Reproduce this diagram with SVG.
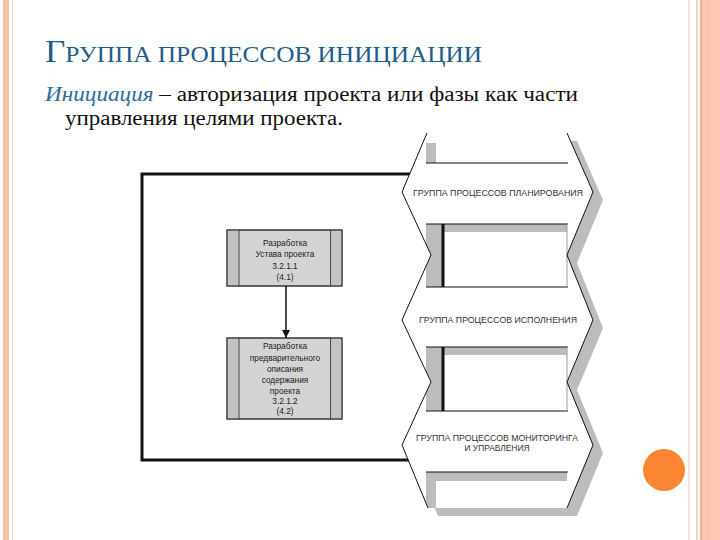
<svg xmlns="http://www.w3.org/2000/svg" width="720" height="540" viewBox="0 0 720 540">
<style>
.title{font-family:"Liberation Serif","DejaVu Serif",serif;fill:#1d5d88}
.body{font-family:"Liberation Serif","DejaVu Serif",serif;font-size:20px;fill:#111}
.node rect.main{fill:#d4d4d4;stroke:#333;stroke-width:1}
.node rect.side{fill:#c2c2c2}
.node line{stroke:#444;stroke-width:1}
.node text{font-family:"Liberation Sans",Arial,sans-serif;font-size:8.3px;fill:#222;text-anchor:middle}
.band{font-family:"Liberation Sans",Arial,sans-serif;font-size:8.4px;fill:#333;text-anchor:middle}
.zig{fill:none;stroke:#111;stroke-width:1}
.gapline{stroke:#111;stroke-width:1.2}
.gray{fill:#bcbcbc}
</style>
<defs>
<clipPath id="col">
<polygon points="427,133 402,192 431,255 402,320 431,382 402,445 428,508 567,508 593,445 567,382 593,320 567,255 593,192 567,133"/>
</clipPath>
<marker id="arr" viewBox="0 0 10 10" refX="10" refY="5" markerWidth="8" markerHeight="8" markerUnits="userSpaceOnUse" orient="auto">
<path d="M0,0 L10,5 L0,10 z" fill="#111"/>
</marker>
</defs>
<rect width="720" height="540" fill="#fff"/>
<!-- page decorations -->
<rect x="3" y="0" width="6" height="540" fill="#fbc1a8"/>
<rect x="12" y="0" width="1.2" height="540" fill="#f6dccd"/>
<rect x="688" y="0" width="1.5" height="540" fill="#f3dccf"/>
<rect x="696" y="0" width="1.5" height="540" fill="#eccab5"/>
<rect x="700" y="0" width="20" height="540" fill="#fdc7b2"/>
<rect x="700.5" y="0" width="1.5" height="540" fill="#f0a483"/>
<rect x="708" y="0" width="1" height="540" fill="#fbbca4"/>
<circle cx="664" cy="470" r="21" fill="#fa8633"/>
<!-- heading -->
<text class="title" x="45" y="62" textLength="437" lengthAdjust="spacingAndGlyphs"><tspan font-size="32">Г</tspan><tspan font-size="23">РУППА ПРОЦЕССОВ ИНИЦИАЦИИ</tspan></text>
<text class="body" x="45" y="101" textLength="533" lengthAdjust="spacingAndGlyphs"><tspan font-style="italic" fill="#2b6b9c">Инициация</tspan> – авторизация проекта или фазы как части</text>
<text class="body" x="65" y="125" textLength="278" lengthAdjust="spacingAndGlyphs">управления целями проекта.</text>
<!-- frame -->
<g id="frame">
<rect x="142" y="174" width="301" height="286" fill="none" stroke="#111" stroke-width="3"/>
</g>
<!-- process group column -->
<g id="process-groups">
<polygon transform="translate(10,8)" class="gray" points="427,133 402,192 431,255 402,320 431,382 402,445 428,508 567,508 593,445 567,382 593,320 567,255 593,192 567,133"/>
<polygon fill="#fff" points="427,133 402,192 431,255 402,320 431,382 402,445 428,508 567,508 593,445 567,382 593,320 567,255 593,192 567,133"/>
<g clip-path="url(#col)">
<rect class="gray" x="426" y="143" width="10" height="20"/>
<line class="gapline" x1="426" y1="163" x2="568" y2="163"/>
<rect class="gray" x="426" y="224" width="141" height="8"/>
<rect class="gray" x="426" y="224" width="16" height="63"/>
<rect x="441.5" y="224" width="3" height="63" fill="#111"/>
<line class="gapline" x1="426" y1="224" x2="568" y2="224"/>
<line class="gapline" x1="426" y1="287" x2="568" y2="287"/>
<line x1="567" y1="224" x2="567" y2="287" stroke="#999" stroke-width="1"/>
<rect class="gray" x="426" y="347" width="141" height="8"/>
<rect class="gray" x="426" y="347" width="16" height="64"/>
<rect x="441.5" y="347" width="3" height="64" fill="#111"/>
<line class="gapline" x1="426" y1="347" x2="568" y2="347"/>
<line class="gapline" x1="426" y1="411" x2="568" y2="411"/>
<line x1="567" y1="347" x2="567" y2="411" stroke="#999" stroke-width="1"/>
<rect class="gray" x="426" y="472" width="141" height="9"/>
<rect class="gray" x="426" y="472" width="10" height="40"/>
<line class="gapline" x1="426" y1="472" x2="568" y2="472"/>
</g>
<polyline class="zig" points="427,133 402,192 431,255 402,320 431,382 402,445 428,508"/>
<polyline class="zig" points="567,133 593,192 567,255 593,320 567,382 593,445 567,508"/>
<text class="band" x="498" y="196" textLength="170" lengthAdjust="spacingAndGlyphs">ГРУППА ПРОЦЕССОВ ПЛАНИРОВАНИЯ</text>
<text class="band" x="498" y="323" textLength="158" lengthAdjust="spacingAndGlyphs">ГРУППА ПРОЦЕССОВ ИСПОЛНЕНИЯ</text>
<text class="band" x="497" y="441" textLength="162" lengthAdjust="spacingAndGlyphs">ГРУППА ПРОЦЕССОВ МОНИТОРИНГА</text>
<text class="band" x="497" y="451">И УПРАВЛЕНИЯ</text>
</g>
<!-- nodes -->
<g id="node-4-1" class="node">
<rect class="main" x="227" y="230" width="115" height="56"/>
<rect class="side" x="227.5" y="230.5" width="11.5" height="55"/>
<rect class="side" x="330.5" y="230.5" width="11" height="55"/>
<line x1="239" y1="230" x2="239" y2="286"/>
<line x1="330.5" y1="230" x2="330.5" y2="286"/>
<rect x="227" y="230" width="115" height="56" fill="none" stroke="#333"/>
<text x="285" y="245.5">Разработка</text>
<text x="285" y="257">Устава проекта</text>
<text x="285" y="268.5">3.2.1.1</text>
<text x="285" y="280">(4.1)</text>
</g>
<g id="node-4-2" class="node">
<rect class="main" x="227" y="338" width="115" height="81"/>
<rect class="side" x="227.5" y="338.5" width="11.5" height="80"/>
<rect class="side" x="330.5" y="338.5" width="11" height="80"/>
<line x1="239" y1="338" x2="239" y2="419"/>
<line x1="330.5" y1="338" x2="330.5" y2="419"/>
<rect x="227" y="338" width="115" height="81" fill="none" stroke="#333"/>
<text x="285" y="349">Разработка</text>
<text x="285" y="360.5">предварительного</text>
<text x="285" y="371.5">описания</text>
<text x="285" y="383">содержания</text>
<text x="285" y="393.5">проекта</text>
<text x="285" y="404">3.2.1.2</text>
<text x="285" y="413.5">(4.2)</text>
</g>
<!-- connectors -->
<g id="connectors">
<line x1="286" y1="286" x2="286" y2="338" stroke="#111" stroke-width="1.5" marker-end="url(#arr)"/>
</g>
</svg>
